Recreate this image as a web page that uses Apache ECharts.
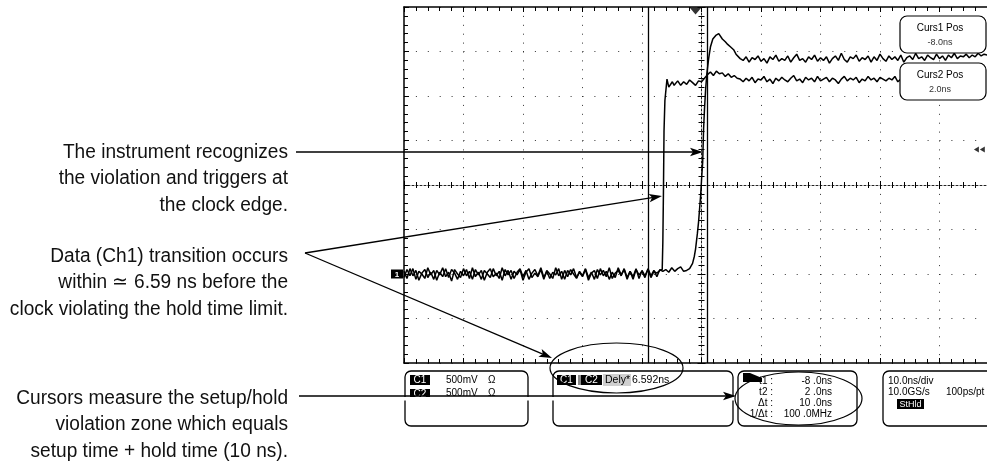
<!DOCTYPE html>
<html><head><meta charset="utf-8">
<script src="https://cdn.jsdelivr.net/npm/echarts@6/dist/echarts.min.js"></script>
<style>html,body{margin:0;padding:0;background:#fff}#c{width:987px;height:470px}</style>
</head><body><div id="c"></div>
<script>
// ---- data (time in ns, amplitude in V; 500 mV/div, 10 ns/div) ----
const sampleStepNs = 0.5;
const ch1LowStart = -49;
const ch1Low = [0.03,-0.05,0.06,-0.02,0.04,-0.07,0.01,0.05,-0.04,0.02,
 -0.06,0.04,-0.01,0.07,-0.03,0.02,-0.08,0.05,0.00,-0.04,
 0.06,-0.02,0.03,-0.06,0.05,-0.01,0.04,-0.07,0.02,0.06,
 -0.03,0.01,-0.05,0.07,-0.02,0.04,-0.06,0.03,-0.01,0.05,
 -0.07,0.02,0.06,-0.04,0.01,-0.03,0.05,-0.06,0.04,0.00,
 -0.05,0.07,-0.02,0.03,-0.06,0.04,-0.01,0.06,-0.04,0.02,
 -0.03,0.05,-0.07,0.01,0.04,-0.05,0.06,-0.02,0.03,-0.06,
 0.02,-0.04,0.07,-0.01,0.05,-0.06,0.03,-0.03,0.06,-0.05,
 0.04,-0.02,0.05,-0.04,0.03,0.01,0.04];
const ch1Edge = [[-5.6,0.05],[-5.5,0.35],[-5.4,0.9],[-5.3,1.6],[-5.15,1.95],[-4.8,2.19],[-4.5,2.1],[-4.2,2.08],[-3.9,2.16],[-3.6,2.12]];
const ch1HighStart = -3.5;
const ch1High = [2.14,2.17,2.12,2.16,2.13,2.18,2.15,2.12,2.17,2.16,
 2.20,2.24,2.27,2.23,2.28,2.25,2.26,2.22,2.25,2.21,2.23,2.20,
 2.19,2.16,2.20,2.17,2.21,2.15,2.19,2.18,2.22,2.16,
 2.19,2.14,2.20,2.17,2.21,2.18,2.16,2.20,2.23,2.17,
 2.19,2.15,2.21,2.18,2.20,2.16,2.22,2.17,2.19,2.21,
 2.16,2.20,2.18,2.14,2.19,2.22,2.17,2.20,2.18,2.21,
 2.15,2.19,2.17,2.22,2.18,2.20,2.16,2.21,2.19,2.17,
 2.20,2.18,2.22,2.16,2.19,2.20];
const ch2LowStart = -49;
const ch2Low = [-0.04,0.05,-0.02,0.06,-0.06,0.03,0.00,-0.05,0.07,-0.01,
 0.04,-0.07,0.02,-0.03,0.06,-0.04,0.05,0.01,-0.06,0.03,
 -0.02,0.05,-0.05,0.07,-0.03,0.02,-0.06,0.04,0.00,-0.04,
 0.06,-0.02,0.03,-0.07,0.05,-0.01,0.04,-0.05,0.02,0.06,
 -0.03,0.04,-0.06,0.01,0.05,-0.02,0.07,-0.04,0.03,-0.05,
 0.02,-0.01,0.06,-0.06,0.04,-0.03,0.05,0.00,-0.05,0.03,
 -0.02,0.06,-0.04,0.02,-0.06,0.05,-0.01,0.04,-0.03,0.07,
 -0.05,0.01,0.04,-0.02,0.06,-0.04,0.03,-0.06,0.05,-0.01,
 0.03,-0.04,0.06,-0.02,0.04,-0.03,0.05,
 0.03,0.05,0.02,0.07,0.03,0.06,0.08,0.03,0.04,0.06];
const ch2Edge = [[-0.8,0.06],[-0.5,0.12],[-0.2,0.2],[0.0,0.28],[0.3,0.45],[0.5,0.58],[0.7,0.75],[0.85,0.88],[1.0,1.05],[1.2,1.26],[1.35,1.63],[1.5,1.85],[1.7,2.08],[1.9,2.25],[2.2,2.42],[2.5,2.55],[2.9,2.64],[3.4,2.68],[3.9,2.70],[4.5,2.64],[5.0,2.61],[5.4,2.58],[5.9,2.55],[6.4,2.52],[6.8,2.47],[7.1,2.46],[7.5,2.42]];
const ch2HighStart = 8;
const ch2High = [2.40,2.44,2.38,2.43,2.41,2.45,2.39,2.42,2.37,2.44,
 2.41,2.46,2.39,2.42,2.40,2.45,2.38,2.43,2.47,2.40,
 2.42,2.38,2.44,2.41,2.46,2.39,2.43,2.40,2.44,2.37,
 2.42,2.45,2.40,2.48,2.41,2.38,2.44,2.42,2.46,2.39,
 2.43,2.41,2.45,2.38,2.44,2.40,2.47,2.42,2.39,2.45,
 2.41,2.44,2.40,2.46,2.38,2.43,2.45,2.41,2.48,2.42,
 2.44,2.40,2.46,2.43,2.41,2.47,2.42,2.45,2.40,2.46,
 2.43,2.48,2.42,2.45,2.44,2.47,2.43,2.46,2.44,2.48,
 2.45,2.47,2.46];
const cursorTimes = [-8, 2];
const triggerTime = 0;
const triggerLevelMarks = [[47.2, 1.40], [48.2, 1.40]];
const timeMin = -49, timeMax = 51, timeDiv = 10;
const voltMin = -1, voltMax = 3, voltDiv = 0.5;

const annotation1 = ['The instrument recognizes', 'the violation and triggers at', 'the clock edge.'];
const annotation2 = ['Data (Ch1) transition occurs', 'within \u2243 6.59 ns before the', 'clock violating the hold time limit.'];
const annotation3 = ['Cursors measure the setup/hold', 'violation zone which equals', 'setup time + hold time (10 ns).'];

// ---- helpers ----
const seg = (start, vals) => vals.map((v, i) => [start + i * sampleStepNs, v]);
const ch1Data = seg(ch1LowStart, ch1Low).concat(ch1Edge, seg(ch1HighStart, ch1High));
const ch2Data = seg(ch2LowStart, ch2Low).concat(ch2Edge, seg(ch2HighStart, ch2High));

const chart = echarts.init(document.getElementById('c'), null, {renderer: 'canvas'});
const BLK = '#000';
const hidden = {show: false};
const gridL = 404, gridT = 7, gridW = 595, gridH = 356;

function mainX(pos) {
  return {
    gridIndex: 0, type: 'value', position: pos, min: timeMin, max: timeMax, interval: timeDiv,
    axisLine: {show: true, onZero: false, lineStyle: {color: BLK, width: 1.5}},
    axisTick: {show: true, inside: true, length: 5, lineStyle: {color: BLK, width: 1}},
    minorTick: {show: true, splitNumber: 5, length: 4, lineStyle: {color: BLK, width: 1}},
    axisLabel: hidden,
    splitLine: pos === 'bottom' ? {show: true, lineStyle: {color: '#333', width: 1, type: [1, 7.9]}} : hidden,
    minorSplitLine: hidden
  };
}

const option = {
  animation: false,
  backgroundColor: '#fff',
  grid: [
    {left: gridL, top: gridT, width: gridW, height: gridH, outerBoundsMode: 'none', containLabel: false},
    {left: gridL, top: gridT + gridH / 2, width: gridW, height: 0, outerBoundsMode: 'none', containLabel: false},
    {left: gridL + gridW / 2, top: gridT, width: 0, height: gridH, outerBoundsMode: 'none', containLabel: false}
  ],
  xAxis: [
    mainX('bottom'),
    mainX('top'),
    {gridIndex: 1, type: 'value', position: 'bottom', min: timeMin, max: timeMax, interval: timeDiv,
     axisLine: {show: true, onZero: false, lineStyle: {color: '#222', width: 1, type: [2, 2]}},
     axisTick: {show: true, inside: true, length: 4, lineStyle: {color: BLK}},
     minorTick: {show: true, splitNumber: 5, length: 3, lineStyle: {color: BLK}},
     axisLabel: hidden, splitLine: hidden},
    {gridIndex: 1, type: 'value', position: 'top', min: timeMin, max: timeMax, interval: timeDiv,
     axisLine: hidden,
     axisTick: {show: true, inside: true, length: 4, lineStyle: {color: BLK}},
     minorTick: {show: true, splitNumber: 5, length: 3, lineStyle: {color: BLK}},
     axisLabel: hidden, splitLine: hidden},
    {gridIndex: 2, type: 'value', min: 0, max: 1, show: false}
  ],
  yAxis: [
    {gridIndex: 0, type: 'value', position: 'left', min: voltMin, max: voltMax, interval: voltDiv,
     axisLine: {show: true, onZero: false, lineStyle: {color: BLK, width: 1.5}},
     axisTick: {show: true, inside: true, length: 5, lineStyle: {color: BLK}},
     minorTick: {show: true, splitNumber: 5, length: 4, lineStyle: {color: BLK}},
     axisLabel: hidden,
     splitLine: {show: true, lineStyle: {color: '#333', width: 1, type: [1, 10.9]}}},
    {gridIndex: 1, type: 'value', min: 0, max: 1, show: false},
    {gridIndex: 2, type: 'value', position: 'left', min: voltMin, max: voltMax, interval: voltDiv,
     axisLine: {show: true, onZero: false, lineStyle: {color: '#222', width: 1, type: [2, 2]}},
     axisTick: {show: true, inside: true, length: 4, lineStyle: {color: BLK}},
     minorTick: {show: true, splitNumber: 5, length: 3, lineStyle: {color: BLK}},
     axisLabel: hidden, splitLine: hidden},
    {gridIndex: 2, type: 'value', position: 'right', min: voltMin, max: voltMax, interval: voltDiv,
     axisLine: hidden,
     axisTick: {show: true, inside: true, length: 4, lineStyle: {color: BLK}},
     minorTick: {show: true, splitNumber: 5, length: 3, lineStyle: {color: BLK}},
     axisLabel: hidden, splitLine: hidden}
  ],
  series: [
    {name: 'Ch1', type: 'line', xAxisIndex: 0, yAxisIndex: 0, data: ch1Data, showSymbol: false, symbol: 'none',
     lineStyle: {color: BLK, width: 1.5}, z: 3,
     markLine: {silent: true, symbol: 'none', label: hidden,
       lineStyle: {color: BLK, width: 1.3, type: 'solid'},
       data: cursorTimes.map(t => ({xAxis: t}))}},
    {name: 'Ch2', type: 'line', xAxisIndex: 0, yAxisIndex: 0, data: ch2Data, showSymbol: false, symbol: 'none',
     lineStyle: {color: BLK, width: 1.5}, z: 3},
    {name: 'trigger', type: 'scatter', xAxisIndex: 0, yAxisIndex: 0, clip: false, silent: true,
     data: [[triggerTime, voltMax]], symbol: 'triangle', symbolRotate: 180, symbolSize: [12, 7], symbolOffset: [0, 4],
     itemStyle: {color: BLK}, z: 5},
    {name: 'level', type: 'scatter', xAxisIndex: 0, yAxisIndex: 0, clip: false, silent: true,
     data: triggerLevelMarks, symbol: 'triangle', symbolRotate: 90, symbolSize: [6, 5],
     itemStyle: {color: BLK}, z: 5}
  ]
};
chart.setOption(option);

// ---- annotations and readouts ----
const SANS = "'Liberation Sans',Arial,sans-serif";
const g = [];
function txt(x, y, s, opt) {
  opt = opt || {};
  g.push({type: 'text', z: 20, style: {x: x, y: y, text: s, fill: opt.fill || BLK,
    font: opt.font || ('10px ' + SANS), textAlign: opt.align || 'left', textVerticalAlign: 'middle'}});
}
function rect(x, y, w, h, opt) {
  opt = opt || {};
  g.push({type: 'rect', z: opt.z || 15, shape: {x: x, y: y, width: w, height: h, r: opt.r || 0},
    style: {fill: opt.fill === undefined ? '#fff' : opt.fill, stroke: opt.stroke || null, lineWidth: opt.lw || 1.2}});
}
function label(x, y, w, h, s, fs) {
  rect(x, y, w, h, {fill: BLK, z: 16});
  g.push({type: 'text', z: 17, style: {x: x + w / 2, y: y + h / 2 + 0.5, text: s, fill: '#fff',
    font: (fs || 10) + 'px ' + SANS, textAlign: 'center', textVerticalAlign: 'middle'}});
}
function arrow(x1, y1, x2, y2) {
  const dx = x2 - x1, dy = y2 - y1, L = Math.hypot(dx, dy), ux = dx / L, uy = dy / L;
  const hl = 13, hw = 4.2;
  const bx = x2 - ux * hl, by = y2 - uy * hl;
  g.push({type: 'line', z: 18, shape: {x1: x1, y1: y1, x2: bx + ux * 3, y2: by + uy * 3},
    style: {stroke: BLK, lineWidth: 1.3}});
  g.push({type: 'polygon', z: 18, shape: {points: [[x2, y2], [bx - uy * hw, by + ux * hw], [bx + ux * 3, by + uy * 3], [bx + uy * hw, by - ux * hw]]},
    style: {fill: BLK}});
}
function block(lines, yFirst) {
  lines.forEach((s, i) => g.push({type: 'text', z: 20, x: 288, y: yFirst + i * 26.5, scaleX: 0.955,
    style: {x: 0, y: 0, text: s, fill: '#111', font: '20px ' + SANS, textAlign: 'right', textVerticalAlign: 'middle'}}));
}

block(annotation1, 152);
block(annotation2, 256);
block(annotation3, 398);

// readout boxes
rect(405, 371, 123, 55, {r: 6, stroke: BLK, lw: 1.3});
rect(553, 371, 180, 55, {r: 6, stroke: BLK, lw: 1.3});
rect(738, 371, 119, 55, {r: 6, stroke: BLK, lw: 1.3});
rect(883, 371, 120, 55, {r: 6, stroke: BLK, lw: 1.3});

// box 1
label(410, 375, 20, 10, 'C1');
txt(446, 380, '500mV'); txt(488, 380, '\u03a9');
label(410, 389, 20, 10, 'C2');
txt(446, 393, '500mV'); txt(488, 393, '\u03a9');
// box 2
label(557, 375, 19, 10, 'C1');
rect(578, 375, 3, 10, {fill: '#888', z: 16});
label(581, 375, 21, 10, 'C2');
rect(603, 374, 28, 12, {fill: '#cfcfcf', z: 16});
txt(605, 380, 'Dely*', {font: '10.5px ' + SANS});
txt(632, 380, '6.592ns', {font: '10.5px ' + SANS});
// box 3
g.push({type: 'polygon', z: 17, shape: {points: [[743, 373], [750, 373], [762, 378], [762, 382], [743, 382]]}, style: {fill: BLK}});
[['t1 :', '-8 .0ns', 381], ['t2 :', '2 .0ns', 392], ['\u0394t :', '10 .0ns', 403], ['1/\u0394t :', '100 .0MHz', 414]].forEach(r => {
  txt(773, r[2], r[0], {align: 'right'});
  txt(832, r[2], r[1], {align: 'right'});
});
// box 4
txt(888, 381, '10.0ns/div');
txt(888, 392, '10.0GS/s');
txt(946, 392, '100ps/pt');
label(897, 399, 27, 10, 'StHld', 9);

// cursor position boxes
rect(900, 16, 86, 37, {r: 7, stroke: BLK, lw: 1.2, z: 15});
txt(940, 28, 'Curs1 Pos', {align: 'center', font: '10px ' + SANS});
txt(940, 43, '-8.0ns', {align: 'center', font: '9px ' + SANS, fill: '#333'});
rect(900, 63, 86, 37, {r: 7, stroke: BLK, lw: 1.2, z: 15});
txt(940, 75, 'Curs2 Pos', {align: 'center', font: '10px ' + SANS});
txt(940, 90, '2.0ns', {align: 'center', font: '9px ' + SANS, fill: '#333'});

// ellipses
g.push({type: 'ellipse', z: 19, shape: {cx: 616.5, cy: 368, rx: 66.5, ry: 25}, style: {fill: null, stroke: BLK, lineWidth: 1.2}});
g.push({type: 'ellipse', z: 19, shape: {cx: 798.5, cy: 398.5, rx: 63.5, ry: 26.5}, style: {fill: null, stroke: BLK, lineWidth: 1.2}});

// annotation arrows
arrow(296, 152, 703, 152);
arrow(305, 253, 662, 196);
arrow(305, 253, 552, 358);
rect(299, 397, 436, 3.5, {fill: '#fff', z: 18});
arrow(299, 396, 736, 396);

// channel 1 ground marker
const gp = chart.convertToPixel({gridIndex: 0}, [timeMin, 0]);
rect(gp[0] - 13, gp[1] - 4.5, 12, 9, {fill: BLK, z: 16});
g.push({type: 'text', z: 17, style: {x: gp[0] - 7, y: gp[1] + 0.5, text: '1', fill: '#fff', font: 'bold 8px ' + SANS, textAlign: 'center', textVerticalAlign: 'middle'}});

chart.setOption({graphic: {elements: g}});
</script>
</body></html>
